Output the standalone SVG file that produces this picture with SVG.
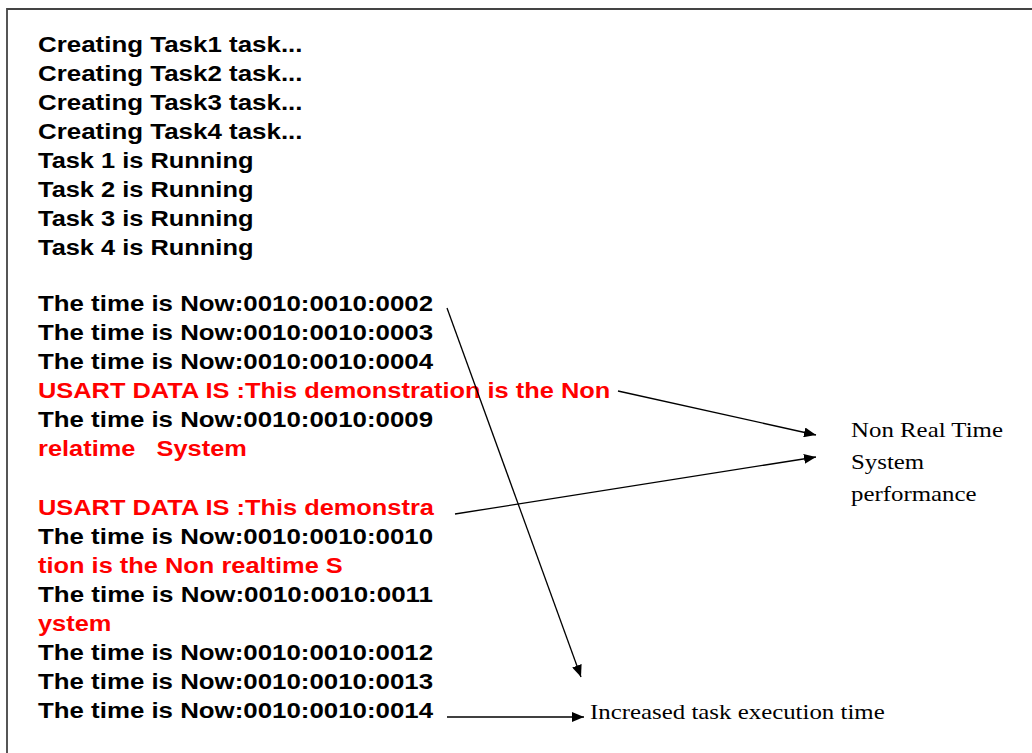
<svg xmlns="http://www.w3.org/2000/svg" width="1032" height="753" viewBox="0 0 1032 753">
  <defs>
    <marker id="arrow" viewBox="0 0 12 10" refX="12" refY="5" markerWidth="12" markerHeight="10" markerUnits="userSpaceOnUse" orient="auto">
      <path d="M0,0 L12,5 L0,10 Z" fill="#000"/>
    </marker>
    <style>
      .log { font-family: "Liberation Sans", Arial, sans-serif; font-weight: bold; font-size: 22px; }
      .blk { fill: #000; }
      .red { fill: #ff0000; }
      .note { font-family: "Liberation Serif", "Times New Roman", serif; font-size: 22px; fill: #000; }
      .conn { stroke: #000; stroke-width: 1.3; fill: none; marker-end: url(#arrow); }
    </style>
  </defs>
  <rect width="1032" height="753" fill="#fff"/>
  <!-- frame -->
  <path d="M7,753 L7,9 L1032,9" fill="none" stroke="#444" stroke-width="1.8"/>

  <!-- console log -->
  <g id="log" class="log" transform="translate(38,0) scale(1.155,1)">
    <text class="blk" x="0" y="52" textLength="229" lengthAdjust="spacingAndGlyphs">Creating Task1 task...</text>
    <text class="blk" x="0" y="81" textLength="229" lengthAdjust="spacingAndGlyphs">Creating Task2 task...</text>
    <text class="blk" x="0" y="110" textLength="229" lengthAdjust="spacingAndGlyphs">Creating Task3 task...</text>
    <text class="blk" x="0" y="139" textLength="229" lengthAdjust="spacingAndGlyphs">Creating Task4 task...</text>
    <text class="blk" x="0" y="168">Task 1 is Running</text>
    <text class="blk" x="0" y="197">Task 2 is Running</text>
    <text class="blk" x="0" y="226">Task 3 is Running</text>
    <text class="blk" x="0" y="255">Task 4 is Running</text>

    <text class="blk" x="0" y="311" textLength="342" lengthAdjust="spacingAndGlyphs">The time is Now:0010:0010:0002</text>
    <text class="blk" x="0" y="340" textLength="342" lengthAdjust="spacingAndGlyphs">The time is Now:0010:0010:0003</text>
    <text class="blk" x="0" y="369" textLength="342" lengthAdjust="spacingAndGlyphs">The time is Now:0010:0010:0004</text>
    <text class="red" x="0" y="398">USART DATA IS :This demonstration is the Non</text>
    <text class="blk" x="0" y="427" textLength="342" lengthAdjust="spacingAndGlyphs">The time is Now:0010:0010:0009</text>
    <text class="red" x="0" y="456" xml:space="preserve">relatime   System</text>

    <text class="red" x="0" y="515">USART DATA IS :This demonstra</text>
    <text class="blk" x="0" y="544" textLength="342" lengthAdjust="spacingAndGlyphs">The time is Now:0010:0010:0010</text>
    <text class="red" x="0" y="573">tion is the Non realtime S</text>
    <text class="blk" x="0" y="602" textLength="342" lengthAdjust="spacingAndGlyphs">The time is Now:0010:0010:0011</text>
    <text class="red" x="0" y="631">ystem</text>
    <text class="blk" x="0" y="660" textLength="342" lengthAdjust="spacingAndGlyphs">The time is Now:0010:0010:0012</text>
    <text class="blk" x="0" y="689" textLength="342" lengthAdjust="spacingAndGlyphs">The time is Now:0010:0010:0013</text>
    <text class="blk" x="0" y="718" textLength="342" lengthAdjust="spacingAndGlyphs">The time is Now:0010:0010:0014</text>
  </g>

  <!-- annotations -->
  <g id="note-nonrt" class="note" transform="translate(851,0) scale(1.13,1)">
    <text x="0" y="437">Non Real Time</text>
    <text x="0" y="469">System</text>
    <text x="0" y="501">performance</text>
  </g>
  <g id="note-exec" class="note" transform="translate(590,0) scale(1.13,1)">
    <text x="0" y="719">Increased task execution time</text>
  </g>

  <!-- connectors -->
  <g id="connectors">
    <line class="conn" x1="447" y1="308" x2="581" y2="677"/>
    <line class="conn" x1="618" y1="391" x2="816" y2="435"/>
    <line class="conn" x1="455" y1="514" x2="816" y2="457"/>
    <line class="conn" x1="447" y1="717" x2="584" y2="717" stroke="#333"/>
  </g>
</svg>
